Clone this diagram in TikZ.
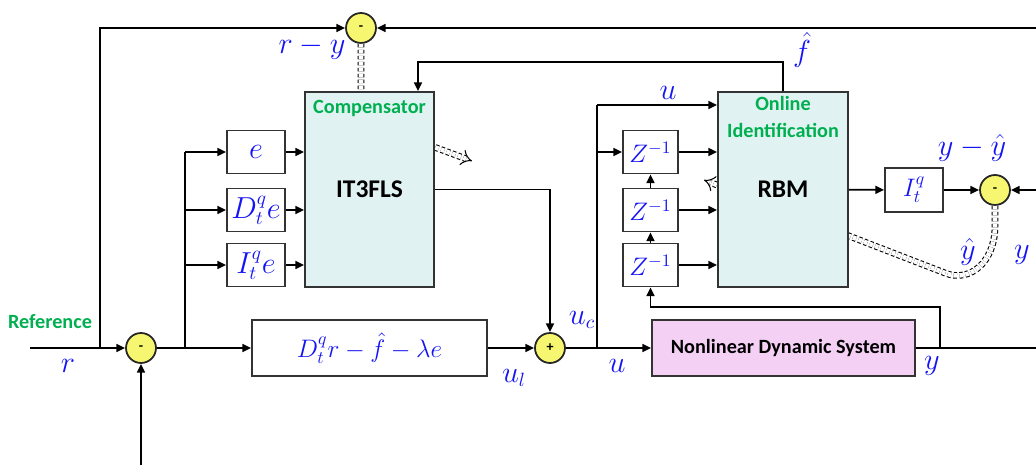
\documentclass[tikz,border=0pt]{standalone}
\usepackage{amsmath,amssymb}
\usepackage{fontspec}
\setsansfont{Carlito}
\usetikzlibrary{arrows.meta,positioning,calc}
\definecolor{cmpCyan}{RGB}{224,242,242}
\definecolor{ndsPink}{RGB}{244,208,244}
\definecolor{sumYellow}{RGB}{246,246,112}
\definecolor{titleGreen}{RGB}{0,176,80}
\definecolor{txtBlue}{RGB}{20,20,245}
\newcommand{\bigmath}{\fontsize{16}{18}\selectfont}
\newcommand{\midmath}{\fontsize{14}{16}\selectfont}
\newcommand{\boldsans}{\sffamily\bfseries\fontsize{11.5}{14}\selectfont}
\newcommand{\coresans}{\sffamily\bfseries\fontsize{14.5}{16}\selectfont}
\tikzset{
  blockbox/.style={draw=black!80, line width=1pt, fill=white, inner sep=1pt,
                   text=txtBlue, font=\bigmath},
  smallbox/.style={blockbox, minimum width=11.6mm, minimum height=8.6mm},
  zbox/.style={blockbox, minimum width=11mm, minimum height=8.6mm, font=\midmath},
  bigbox/.style={blockbox, fill=cmpCyan, text=black, font=\coresans,
                 minimum width=26mm, minimum height=39mm},
  sumnode/.style={circle, draw=black!85, line width=1pt, fill=sumYellow, minimum size=6mm,
                  inner sep=0pt, font=\sffamily\bfseries\fontsize{8}{8}\selectfont},
  greentitle/.style={text=titleGreen, font=\boldsans, align=center, inner sep=0pt},
  lbl/.style={text=txtBlue, font=\bigmath, inner sep=0pt},
  arrow/.style={-{Triangle[length=5pt,width=4.5pt]}, line width=1pt},
  adapt/.style={double distance=2.6pt, line width=0.6pt, dashed,
                dash pattern=on 2pt off 1.4pt, -{Implies[length=4pt]}}
}

\begin{document}
\begin{tikzpicture}[x=0.2mm, y=-0.2mm, line width=1pt]
\useasboundingbox (0,0) rectangle (1036,465);

% summing points
\node[sumnode] (sumA) at (361,28) {-};
\node[sumnode] (sumB) at (141,348) {-};
\node[sumnode] (plus) at (550,348) {+};
\node[sumnode] (sumC) at (995,190) {-};

% adaptation paths, partly hidden by the blocks
\draw[adapt] (sumA.south) -- (361,120) -- (472,161);
\draw[adapt] (sumC.south) -- ++(0,20) .. controls (995,262) and (970,283) .. (945,273) -- (704,180);

% blocks
\node[bigbox, minimum width=25.8mm] (comp) at (369.5,189.5) {IT3FLS};
\node[greentitle, below=4.5pt of comp.north] (comptitle) {Compensator};
\node[bigbox] (rbm) at (783,189.5) {RBM};
\node[greentitle, below=2.5pt of rbm.north] (rbmtitle) {Online\\[1.5pt]Identification};

\node[smallbox] (ebox) at (256,152) {$e$};
\node[smallbox] (dbox) at (256,210) {$D_t^q e$};
\node[smallbox] (ibox) at (256,265) {$I_t^q e$};

\node[zbox] (zA) at (650.5,152) {$Z^{-1}$};
\node[zbox] (zB) at (650.5,210) {$Z^{-1}$};
\node[zbox] (zC) at (650.5,265) {$Z^{-1}$};

\node[blockbox, minimum width=47mm, minimum height=11.2mm, font=\midmath] (slide) at (369.5,348)
  {$D_t^q r-\hat f-\lambda e$};
\node[blockbox, fill=ndsPink, text=black, font=\boldsans, minimum width=52.6mm,
      minimum height=11.2mm] (nds) at (783.5,348) {Nonlinear Dynamic System};
\node[blockbox, minimum width=11.6mm, minimum height=8.8mm, font=\midmath] (itbox) at (914,190) {$I_t^q$};

% free ends and junctions
\coordinate (refin) at (30,348);
\coordinate (jr) at (100,348);
\coordinate (fbin) at (141,465);
\coordinate (jb) at (185,348);
\coordinate (ju) at (597,348);
\coordinate (jut) at (597,105);
\coordinate (jy) at (940,348);
\coordinate (yb) at (940,307);
\coordinate (fk) at (418,62);
\coordinate (rtop) at (1036,28);
\coordinate (rmid) at (1036,190);
\coordinate (rout) at (1036,348);

% connectors
\draw[arrow] (refin) -- (sumB);
\draw[arrow] (jr) |- (sumA);
\draw[arrow] (rtop) -- (sumA);
\draw[arrow] (fbin) -- (sumB);
\draw (sumB) -- (jb);
\draw[arrow] (jb) -- (slide);
\draw (jb) -- (jb |- ebox);
\draw[arrow] (jb |- ebox) -- (ebox);
\draw[arrow] (jb |- dbox) -- (dbox);
\draw[arrow] (jb |- ibox) -- (ibox);
\draw[arrow] (ebox) -- (ebox -| comp.west);
\draw[arrow] (dbox) -- (dbox -| comp.west);
\draw[arrow] (ibox) -- (ibox -| comp.west);
\draw[arrow] (comp.east) -| (plus);
\draw[arrow] (slide) -- (plus);
\draw (plus) -- (ju);
\draw[arrow] (ju) -- (nds);
\draw (ju) -- (jut);
\draw[arrow] (jut) -- (jut -| rbm.west);
\draw[arrow] (ju |- zA) -- (zA);
\draw[arrow] (zA) -- (zA -| rbm.west);
\draw[arrow] (zB) -- (zB -| rbm.west);
\draw[arrow] (zC) -- (zC -| rbm.west);
\draw[arrow] (zB) -- (zA);
\draw[arrow] (zC) -- (zB);
\draw (nds) -- (rout);
\draw[arrow] (jy) -- (yb) -| (zC);
\draw[arrow] (rbm.north) |- (fk) -- (fk |- comp.north);
\draw[arrow] (rbm) -- (itbox);
\draw[arrow] (itbox) -- (sumC);
\draw[arrow] (rmid) -- (sumC);

% labels
\node[greentitle] (lblref) at (50,322) {Reference};
\node[lbl] (lblr) at (68,366) {$r$};
\node[lbl] (lblry) at (312,48) {$r-y$};
\node[lbl] (lblfh) at (802,50) {$\hat f$};
\node[lbl] (lblua) at (668,93) {$u$};
\node[lbl] (lblyy) at (972,148) {$y-\hat y$};
\node[lbl] (lblyh) at (968,252) {$\hat y$};
\node[lbl] (lblya) at (1022,255) {$y$};
\node[lbl] (lblul) at (514,378) {$u_l$};
\node[lbl] (lbluc) at (582,320) {$u_c$};
\node[lbl] (lblub) at (617,366) {$u$};
\node[lbl] (lblyb) at (932,366) {$y$};
\end{tikzpicture}
\end{document}
